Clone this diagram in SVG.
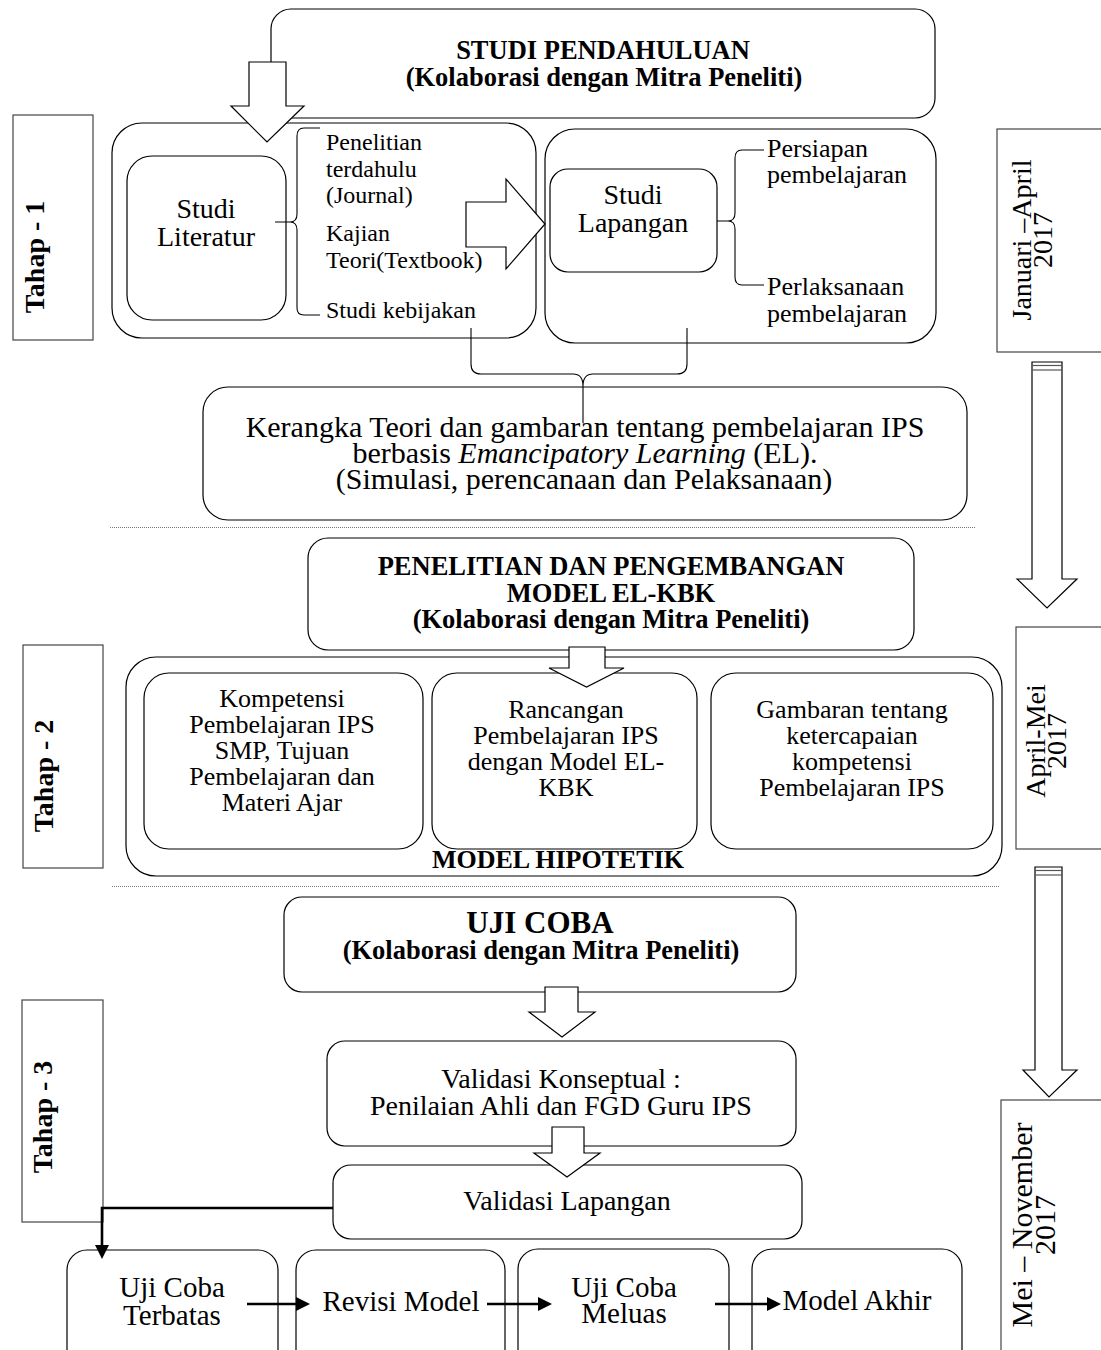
<svg xmlns="http://www.w3.org/2000/svg" width="1101" height="1350" viewBox="0 0 1101 1350">
<style>
.box{fill:#fff;stroke:#000;stroke-width:1.2}
.tb{fill:#fff;stroke:#444;stroke-width:1.2}
.t{font-family:"Liberation Serif","Times New Roman",serif;fill:#000}
.b{font-weight:bold}
.m{text-anchor:middle}
.blk{fill:#fff;stroke:#000;stroke-width:1.2}
.ln{fill:none;stroke:#000;stroke-width:1.1}
.conn{fill:none;stroke:#000;stroke-width:2.6}
.dot{stroke:#777;stroke-width:1;stroke-dasharray:1 1}
.tl{stroke:#555;stroke-width:1.2}
</style>
<defs>
<marker id="ah" markerWidth="14" markerHeight="14" refX="0" refY="7" orient="auto" markerUnits="userSpaceOnUse"><path d="M0,0 L14,7 L0,14 z" fill="#000"/></marker>
</defs>
<rect width="1101" height="1350" fill="#fff"/>

<g id="studi-pendahuluan">
<rect class="box" x="271" y="9" width="664" height="109" rx="20"/>
<text class="t b m" x="603" y="59" font-size="26.5">STUDI PENDAHULUAN</text>
<text class="t b m" x="604" y="86" font-size="26.5">(Kolaborasi dengan Mitra Peneliti)</text>
</g>

<g id="tahap1">
<rect class="tb" x="13" y="115" width="80" height="225"/>
<text class="t b m" font-size="28" transform="translate(44,257) rotate(-90)">Tahap - 1</text>
</g>

<g id="grup-literatur">
<rect class="box" x="112" y="123" width="424" height="215" rx="30"/>
</g>
<g id="studi-literatur">
<rect class="box" x="127" y="156" width="159" height="164" rx="25"/>
<text class="t m" x="206" y="218" font-size="28">Studi</text>
<text class="t m" x="206" y="246" font-size="28">Literatur</text>
</g>
<g id="literatur-items">
<path class="ln" d="M320,128 H304 Q297,128 297,136 V214 Q297,222 290,222 H275 M290,222 Q297,222 297,230 V308 Q297,315 304,315 H320"/>
<text class="t" x="326" y="150" font-size="24">Penelitian</text>
<text class="t" x="326" y="177" font-size="24">terdahulu</text>
<text class="t" x="326" y="203" font-size="24">(Journal)</text>
<text class="t" x="326" y="241" font-size="24">Kajian</text>
<text class="t" x="326" y="268" font-size="24">Teori(Textbook)</text>
<text class="t" x="326" y="318" font-size="24">Studi kebijakan</text>
</g>

<g id="grup-lapangan">
<rect class="box" x="545" y="129" width="391" height="214" rx="30"/>
</g>
<g id="studi-lapangan">
<rect class="box" x="550" y="169" width="167" height="103" rx="18"/>
<text class="t m" x="633" y="204" font-size="28">Studi</text>
<text class="t m" x="633" y="232" font-size="28">Lapangan</text>
</g>
<g id="lapangan-items">
<path class="ln" d="M764,150 H742 Q735,150 735,158 V213 Q735,221 728,221 H717 M728,221 Q735,221 735,229 V277 Q735,285 742,285 H764"/>
<text class="t" x="767" y="157" font-size="26">Persiapan</text>
<text class="t" x="767" y="183" font-size="26">pembelajaran</text>
<text class="t" x="767" y="295" font-size="26">Perlaksanaan</text>
<text class="t" x="767" y="322" font-size="26">pembelajaran</text>
</g>

<g id="waktu1">
<rect class="tb" x="997" y="129" width="110" height="223"/>
<text class="t m" font-size="28" transform="translate(1031,240) rotate(-90)">Januari –April</text>
<text class="t m" font-size="28" transform="translate(1052,240) rotate(-90)">2017</text>
</g>

<g id="kerangka">
<rect class="box" x="203" y="387" width="764" height="133" rx="25"/>
<text class="t m" x="585" y="437" font-size="30">Kerangka Teori dan gambaran tentang pembelajaran IPS</text>
<text class="t m" x="585" y="463" font-size="30">berbasis <tspan font-style="italic">Emancipatory Learning</tspan> (EL).</text>
<text class="t m" x="584" y="489" font-size="30">(Simulasi, perencanaan dan Pelaksanaan)</text>
</g>

<g id="pemisah">
<line class="dot" x1="110" y1="527.5" x2="975" y2="527.5"/>
<line class="dot" x1="112" y1="886.5" x2="1000" y2="886.5"/>
</g>

<g id="penelitian">
<rect class="box" x="308" y="538" width="606" height="112" rx="20"/>
<text class="t b m" x="611" y="575" font-size="26.5">PENELITIAN DAN PENGEMBANGAN</text>
<text class="t b m" x="611" y="602" font-size="26.5">MODEL EL-KBK</text>
<text class="t b m" x="611" y="628" font-size="26.5">(Kolaborasi dengan Mitra Peneliti)</text>
</g>

<g id="tahap2">
<rect class="tb" x="23" y="645" width="80" height="223"/>
<text class="t b m" font-size="28" transform="translate(53,776) rotate(-90)">Tahap - 2</text>
</g>

<g id="model-hipotetik">
<rect class="box" x="126" y="657" width="876" height="219" rx="30"/>
<text class="t b m" x="558" y="868" font-size="26">MODEL HIPOTETIK</text>
</g>
<g id="kompetensi">
<rect class="box" x="144" y="673" width="279" height="176" rx="25"/>
<text class="t m" x="282" y="707" font-size="26">Kompetensi</text>
<text class="t m" x="282" y="733" font-size="26">Pembelajaran IPS</text>
<text class="t m" x="282" y="759" font-size="26">SMP, Tujuan</text>
<text class="t m" x="282" y="785" font-size="26">Pembelajaran dan</text>
<text class="t m" x="282" y="811" font-size="26">Materi Ajar</text>
</g>
<g id="rancangan">
<rect class="box" x="432" y="673" width="265" height="176" rx="25"/>
<text class="t m" x="566" y="718" font-size="26">Rancangan</text>
<text class="t m" x="566" y="744" font-size="26">Pembelajaran IPS</text>
<text class="t m" x="566" y="770" font-size="26">dengan Model EL-</text>
<text class="t m" x="566" y="796" font-size="26">KBK</text>
</g>
<g id="gambaran">
<rect class="box" x="711" y="673" width="282" height="176" rx="25"/>
<text class="t m" x="852" y="718" font-size="26">Gambaran tentang</text>
<text class="t m" x="852" y="744" font-size="26">ketercapaian</text>
<text class="t m" x="852" y="770" font-size="26">kompetensi</text>
<text class="t m" x="852" y="796" font-size="26">Pembelajaran IPS</text>
</g>

<g id="waktu2">
<rect class="tb" x="1016" y="627" width="100" height="222"/>
<text class="t m" font-size="28" transform="translate(1045,741) rotate(-90)">April-Mei</text>
<text class="t m" font-size="28" transform="translate(1066,741) rotate(-90)">2017</text>
</g>

<g id="uji-coba">
<rect class="box" x="284" y="897" width="512" height="95" rx="18"/>
<text class="t b m" x="540" y="933" font-size="31">UJI COBA</text>
<text class="t b m" x="541" y="959" font-size="26.5">(Kolaborasi dengan Mitra Peneliti)</text>
</g>

<g id="tahap3">
<rect class="tb" x="22" y="1000" width="81" height="222"/>
<text class="t b m" font-size="28" transform="translate(52,1117) rotate(-90)">Tahap - 3</text>
</g>

<g id="validasi-konseptual">
<rect class="box" x="327" y="1041" width="469" height="105" rx="18"/>
<text class="t m" x="561" y="1088" font-size="28">Validasi Konseptual :</text>
<text class="t m" x="561" y="1115" font-size="28">Penilaian Ahli dan FGD Guru IPS</text>
</g>

<g id="validasi-lapangan">
<rect class="box" x="333" y="1165" width="469" height="74" rx="18"/>
<text class="t m" x="567" y="1210" font-size="28">Validasi Lapangan</text>
</g>

<g id="waktu3">
<rect class="tb" x="1001" y="1100" width="110" height="260"/>
<text class="t m" font-size="30" transform="translate(1032,1225) rotate(-90)">Mei – November</text>
<text class="t m" font-size="30" transform="translate(1055,1225) rotate(-90)">2017</text>
</g>

<g id="uji-terbatas">
<rect class="box" x="67" y="1250" width="211" height="120" rx="20"/>
<text class="t m" x="172" y="1297" font-size="29">Uji Coba</text>
<text class="t m" x="172" y="1325" font-size="29">Terbatas</text>
</g>
<g id="revisi-model">
<rect class="box" x="296" y="1250" width="209" height="120" rx="20"/>
<text class="t m" x="401" y="1311" font-size="29">Revisi Model</text>
</g>
<g id="uji-meluas">
<rect class="box" x="518" y="1249" width="211" height="120" rx="20"/>
<text class="t m" x="624" y="1297" font-size="29">Uji Coba</text>
<text class="t m" x="624" y="1323" font-size="29">Meluas</text>
</g>
<g id="model-akhir">
<rect class="box" x="752" y="1249" width="210" height="120" rx="20"/>
<text class="t m" x="857" y="1310" font-size="29">Model Akhir</text>
</g>

<g id="connectors">
<polygon class="blk" points="249,62 286,62 286,106 304,106 267,142 231,106 249,106"/>
<polygon class="blk" points="466,202 506,202 506,179 545,224 506,269 506,247 466,247"/>
<path class="ln" d="M471,328 V364 Q471,374 481,374 H573 Q583,374 583,386 V423 M687,328 V364 Q687,374 677,374 H593 Q583,374 583,386"/>
<polygon class="blk" points="1032,362 1062,362 1062,579 1077,579 1047,608 1017,579 1032,579"/>
<line class="tl" x1="1032" y1="365.5" x2="1062" y2="365.5"/>
<line class="tl" x1="1032" y1="370" x2="1062" y2="370"/>
<polygon class="blk" points="569,647 605,647 605,668 624,668 586.5,687 549,668 569,668"/>
<polygon class="blk" points="1035,867 1062,867 1062,1070 1077,1070 1049,1097 1023,1070 1035,1070"/>
<line class="tl" x1="1035" y1="870.5" x2="1062" y2="870.5"/>
<line class="tl" x1="1035" y1="875" x2="1062" y2="875"/>
<polygon class="blk" points="545,987 578,987 578,1012 595,1012 562,1037 529,1012 545,1012"/>
<polygon class="blk" points="552,1127 584,1127 584,1153 600,1153 567,1177 534,1153 552,1153"/>
<path class="conn" d="M333,1208 H102 V1245" marker-end="url(#ah)"/>
<path class="conn" d="M247,1304 H296" marker-end="url(#ah)"/>
<path class="conn" d="M487,1304 H538" marker-end="url(#ah)"/>
<path class="conn" d="M715,1304 H767" marker-end="url(#ah)"/>
</g>
</svg>
